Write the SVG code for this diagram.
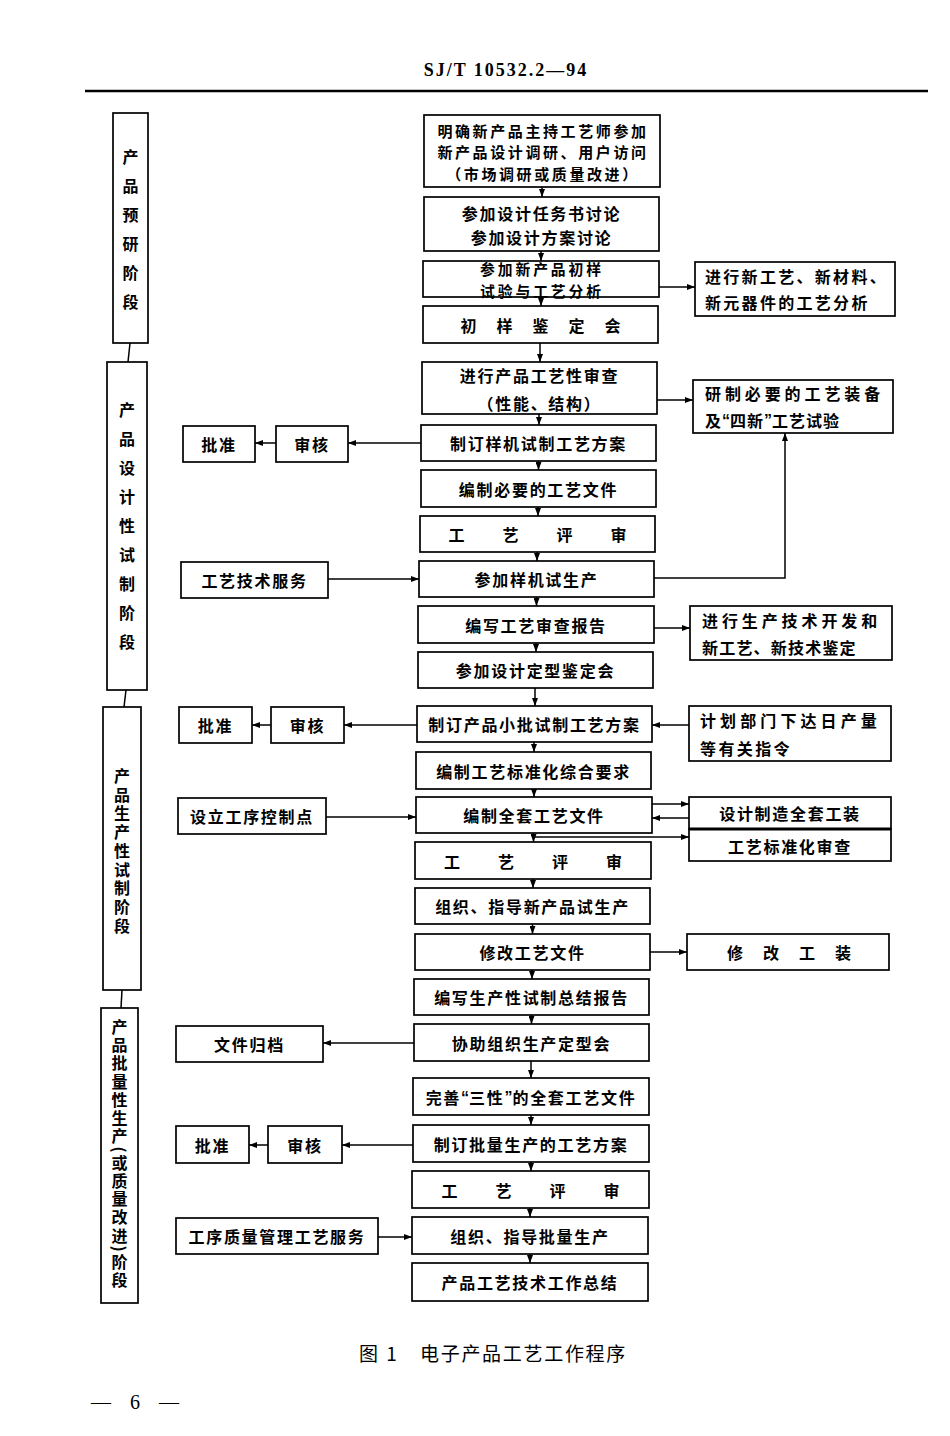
<svg xmlns="http://www.w3.org/2000/svg" width="950" height="1436" viewBox="0 0 950 1436">
<style>
.bg{fill:#fff}
.box{fill:#fff;stroke:#000;stroke-width:1.7}
.t{font-family:"Noto Sans CJK SC","Noto Sans CJK JP",sans-serif;font-size:16px;font-weight:700;fill:#000;text-anchor:middle;dominant-baseline:central;letter-spacing:1.7px}
.st{font-family:"Noto Sans CJK SC","Noto Sans CJK JP",sans-serif;font-size:16px;font-weight:700;fill:#000;text-anchor:start;writing-mode:vertical-rl}
.q{font-family:"Liberation Sans",sans-serif;letter-spacing:0}
.l{text-anchor:start}
.ln{stroke:#000;stroke-width:1.5;fill:none}
.arr{stroke:#000;stroke-width:1.5;fill:none;marker-end:url(#ah)}
</style>
<defs>
<marker id="ah" markerUnits="userSpaceOnUse" markerWidth="8" markerHeight="6" refX="8" refY="3" orient="auto">
<path d="M0,0 L8,3 L0,6 z" fill="#000"/>
</marker>
</defs>
<rect class="bg" x="0" y="0" width="950" height="1436"/>

<g id="header">
<text x="506" y="70" style="font-family:'Liberation Serif',serif;font-size:18px;font-weight:700;letter-spacing:2px;text-anchor:middle;dominant-baseline:central">SJ/T 10532.2—94</text>
<line x1="85" y1="91" x2="928" y2="91" stroke="#000" stroke-width="2.4"/>
</g>

<g id="stage1">
<rect class="box" x="113" y="113" width="35" height="230"/>
<text class="st" x="130.5" y="149" style="letter-spacing:13px">产品预研阶段</text>
</g>
<g id="stage2">
<rect class="box" x="107" y="362" width="40" height="328"/>
<text class="st" x="127" y="402" style="letter-spacing:13px">产品设计性试制阶段</text>
</g>
<g id="stage3">
<rect class="box" x="103" y="707" width="38" height="283"/>
<text class="st" x="122" y="768" style="letter-spacing:2.7px">产品生产性试制阶段</text>
</g>
<g id="stage4">
<rect class="box" x="101" y="1008" width="37" height="295"/>
<text class="st" x="119.5" y="1019" style="letter-spacing:2.2px">产品批量性生产(或质量改进)阶段</text>
</g>

<g id="m1"><rect class="box" x="424" y="115" width="236" height="72"/>
<text class="t" style="font-size:15px;letter-spacing:2.6px"><tspan x="543" y="129.5">明确新产品主持工艺师参加</tspan><tspan x="543" y="151.3">新产品设计调研、用户访问</tspan><tspan x="543" y="173.1">（市场调研或质量改进）</tspan></text></g>
<g id="m2"><rect class="box" x="424" y="197" width="235" height="54"/>
<text class="t"><tspan x="541.5" y="213">参加设计任务书讨论</tspan><tspan x="541.5" y="236.5">参加设计方案讨论</tspan></text></g>
<g id="m3"><rect class="box" x="423" y="261" width="236" height="36"/>
<text class="t" style="font-size:14.8px;letter-spacing:2.9px"><tspan x="542" y="268">参加新产品初样</tspan><tspan x="542" y="289.6">试验与工艺分析</tspan></text></g>
<g id="m4"><rect class="box" x="423" y="306" width="235" height="37"/>
<text class="t" x="550.5" y="325" style="letter-spacing:20px">初样鉴定会</text></g>
<g id="m5"><rect class="box" x="422" y="362" width="235" height="52"/>
<text class="t"><tspan x="539.5" y="375">进行产品工艺性审查</tspan><tspan x="539.5" y="403">（性能、结构）</tspan></text></g>
<g id="m6"><rect class="box" x="421" y="425" width="235" height="36"/>
<text class="t" x="538.5" y="443">制订样机试制工艺方案</text></g>
<g id="m7"><rect class="box" x="421" y="470" width="235" height="37"/>
<text class="t" x="538.5" y="488.5">编制必要的工艺文件</text></g>
<g id="m8"><rect class="box" x="420" y="516" width="235" height="36"/>
<text class="t" x="556.5" y="534" style="letter-spacing:38px">工艺评审</text></g>
<g id="m9"><rect class="box" x="419" y="561" width="235" height="36"/>
<text class="t" x="536.5" y="579">参加样机试生产</text></g>
<g id="m10"><rect class="box" x="418" y="606" width="236" height="37"/>
<text class="t" x="536" y="624.5">编写工艺审查报告</text></g>
<g id="m11"><rect class="box" x="418" y="652" width="235" height="36"/>
<text class="t" x="535.5" y="670">参加设计定型鉴定会</text></g>
<g id="m12"><rect class="box" x="417" y="706" width="235" height="36"/>
<text class="t" x="534.5" y="724">制订产品小批试制工艺方案</text></g>
<g id="m13"><rect class="box" x="416" y="752" width="235" height="37"/>
<text class="t" x="533.5" y="770.5">编制工艺标准化综合要求</text></g>
<g id="m14"><rect class="box" x="416" y="797" width="236" height="36"/>
<text class="t" x="534" y="815">编制全套工艺文件</text></g>
<g id="m15"><rect class="box" x="415" y="842" width="236" height="37"/>
<text class="t" x="552" y="860.5" style="letter-spacing:38px">工艺评审</text></g>
<g id="m16"><rect class="box" x="415" y="888" width="235" height="36"/>
<text class="t" x="532.5" y="906">组织、指导新产品试生产</text></g>
<g id="m17"><rect class="box" x="415" y="934" width="235" height="36"/>
<text class="t" x="532.5" y="952">修改工艺文件</text></g>
<g id="m18"><rect class="box" x="414" y="979" width="235" height="36"/>
<text class="t" x="531.5" y="997">编写生产性试制总结报告</text></g>
<g id="m19"><rect class="box" x="414" y="1024" width="235" height="37"/>
<text class="t" x="531.5" y="1042.5">协助组织生产定型会</text></g>
<g id="m20"><rect class="box" x="413" y="1078" width="236" height="37"/>
<text class="t" x="531" y="1096.5">完善<tspan class="q">“</tspan>三性<tspan class="q">”</tspan>的全套工艺文件</text></g>
<g id="m21"><rect class="box" x="413" y="1125" width="236" height="37"/>
<text class="t" x="531" y="1143.5">制订批量生产的工艺方案</text></g>
<g id="m22"><rect class="box" x="412" y="1171" width="237" height="37"/>
<text class="t" x="549.5" y="1189.5" style="letter-spacing:38px">工艺评审</text></g>
<g id="m23"><rect class="box" x="412" y="1217" width="236" height="37"/>
<text class="t" x="530" y="1235.5">组织、指导批量生产</text></g>
<g id="m24"><rect class="box" x="412" y="1263" width="236" height="38"/>
<text class="t" x="530" y="1282">产品工艺技术工作总结</text></g>

<g id="r1"><rect class="box" x="695" y="262" width="200" height="54"/>
<text class="t l" style="letter-spacing:2.3px"><tspan x="705" y="276">进行新工艺、新材料、</tspan><tspan x="705" y="302">新元器件的工艺分析</tspan></text></g>
<g id="r2"><rect class="box" x="693" y="380" width="200" height="53"/>
<text class="t l"><tspan x="705" y="393" style="letter-spacing:3.9px">研制必要的工艺装备</tspan><tspan x="705" y="420" style="letter-spacing:1px">及<tspan class="q">“</tspan>四新<tspan class="q">”</tspan>工艺试验</tspan></text></g>
<g id="r3"><rect class="box" x="690" y="606" width="202" height="54"/>
<text class="t l"><tspan x="702" y="620" style="letter-spacing:3.9px">进行生产技术开发和</tspan><tspan x="702" y="647" style="letter-spacing:1.2px">新工艺、新技术鉴定</tspan></text></g>
<g id="r4"><rect class="box" x="689" y="706" width="202" height="55"/>
<text class="t l"><tspan x="700" y="720" style="letter-spacing:4.1px">计划部门下达日产量</tspan><tspan x="700" y="748" style="letter-spacing:2.4px">等有关指令</tspan></text></g>
<g id="r5"><rect class="box" x="689" y="797" width="202" height="32"/>
<text class="t" x="790" y="813">设计制造全套工装</text></g>
<g id="r6"><rect class="box" x="689" y="829" width="202" height="32"/>
<text class="t" x="790" y="846">工艺标准化审查</text>
<line x1="689" y1="829" x2="891" y2="829" stroke="#000" stroke-width="3.2"/></g>
<g id="r7"><rect class="box" x="687" y="934" width="202" height="36"/>
<text class="t" x="799" y="952" style="letter-spacing:20px">修改工装</text></g>

<g id="l1"><rect class="box" x="183" y="426" width="72" height="36"/><text class="t" x="219" y="444">批准</text></g>
<g id="l2"><rect class="box" x="276" y="426" width="72" height="36"/><text class="t" x="312" y="444">审核</text></g>
<g id="l3"><rect class="box" x="181" y="562" width="147" height="36"/><text class="t" x="254.5" y="580">工艺技术服务</text></g>
<g id="l4"><rect class="box" x="179" y="707" width="73" height="36"/><text class="t" x="215.5" y="725">批准</text></g>
<g id="l5"><rect class="box" x="271" y="707" width="73" height="36"/><text class="t" x="307.5" y="725">审核</text></g>
<g id="l6"><rect class="box" x="178" y="798" width="148" height="36"/><text class="t" x="252" y="816">设立工序控制点</text></g>
<g id="l7"><rect class="box" x="176" y="1026" width="147" height="36"/><text class="t" x="249.5" y="1044">文件归档</text></g>
<g id="l8"><rect class="box" x="176" y="1126" width="73" height="37"/><text class="t" x="212.5" y="1144.5">批准</text></g>
<g id="l9"><rect class="box" x="268" y="1126" width="74" height="37"/><text class="t" x="305" y="1144.5">审核</text></g>
<g id="l10"><rect class="box" x="176" y="1218" width="202" height="36"/><text class="t" x="277" y="1236">工序质量管理工艺服务</text></g>

<g id="connectors">
<line class="ln" x1="130" y1="343" x2="128" y2="362"/>
<line class="ln" x1="126" y1="690" x2="124" y2="707"/>
<line class="ln" x1="122" y1="990" x2="121" y2="1008"/>

<line class="arr" x1="542" y1="187" x2="542" y2="197"/>
<line class="arr" x1="541" y1="251" x2="541" y2="261"/>
<line class="arr" x1="541" y1="297" x2="541" y2="306"/>
<line class="arr" x1="540" y1="343" x2="540" y2="362"/>
<line class="arr" x1="539" y1="414" x2="539" y2="425"/>
<line class="arr" x1="538.5" y1="461" x2="538.5" y2="470"/>
<line class="arr" x1="538" y1="507" x2="538" y2="516"/>
<line class="arr" x1="537" y1="552" x2="537" y2="561"/>
<line class="arr" x1="536.5" y1="597" x2="536.5" y2="606"/>
<line class="arr" x1="536" y1="643" x2="536" y2="652"/>
<line class="arr" x1="535" y1="688" x2="535" y2="706"/>
<line class="arr" x1="534" y1="742" x2="534" y2="752"/>
<line class="arr" x1="534" y1="789" x2="534" y2="797"/>
<line class="arr" x1="533.5" y1="833" x2="533.5" y2="842"/>
<line class="arr" x1="533" y1="879" x2="533" y2="888"/>
<line class="arr" x1="532.5" y1="924" x2="532.5" y2="934"/>
<line class="arr" x1="532" y1="970" x2="532" y2="979"/>
<line class="arr" x1="531.5" y1="1015" x2="531.5" y2="1024"/>
<line class="arr" x1="531" y1="1061" x2="531" y2="1078"/>
<line class="arr" x1="531" y1="1115" x2="531" y2="1125"/>
<line class="arr" x1="531" y1="1162" x2="531" y2="1171"/>
<line class="arr" x1="530" y1="1208" x2="530" y2="1217"/>
<line class="arr" x1="530" y1="1254" x2="530" y2="1263"/>

<line class="arr" x1="659" y1="287" x2="695" y2="287"/>
<line class="arr" x1="657" y1="400" x2="693" y2="400"/>
<line class="arr" x1="421" y1="443" x2="348" y2="443"/>
<line class="arr" x1="276" y1="443" x2="255" y2="443"/>
<line class="arr" x1="328" y1="579" x2="419" y2="579"/>
<path class="arr" d="M654,578 H785 V433"/>
<line class="arr" x1="654" y1="628" x2="690" y2="628"/>
<line class="arr" x1="689" y1="725" x2="652" y2="725"/>
<line class="arr" x1="417" y1="725" x2="344" y2="725"/>
<line class="arr" x1="271" y1="725" x2="252" y2="725"/>
<line class="arr" x1="326" y1="817" x2="416" y2="817"/>
<line class="arr" x1="652" y1="804" x2="689" y2="804"/>
<line class="arr" x1="689" y1="818" x2="652" y2="818"/>
<line class="arr" x1="533.5" y1="837" x2="689" y2="837"/>
<line class="arr" x1="650" y1="952" x2="687" y2="952"/>
<line class="arr" x1="414" y1="1043" x2="323" y2="1043"/>
<line class="arr" x1="413" y1="1145" x2="342" y2="1145"/>
<line class="arr" x1="268" y1="1145" x2="249" y2="1145"/>
<line class="arr" x1="378" y1="1237" x2="412" y2="1237"/>
</g>

<g id="caption">
<text x="359" y="1352" style="font-family:'Noto Sans CJK SC',sans-serif;font-size:19px;dominant-baseline:central;letter-spacing:2px">图 1</text>
<text x="420" y="1352" style="font-family:'Noto Sans CJK SC',sans-serif;font-size:19px;letter-spacing:1.7px;dominant-baseline:central">电子产品工艺工作程序</text>
<text x="91" y="1402" style="font-family:'Liberation Serif',serif;font-size:20px;letter-spacing:7px;dominant-baseline:central">— 6 —</text>
</g>
</svg>
